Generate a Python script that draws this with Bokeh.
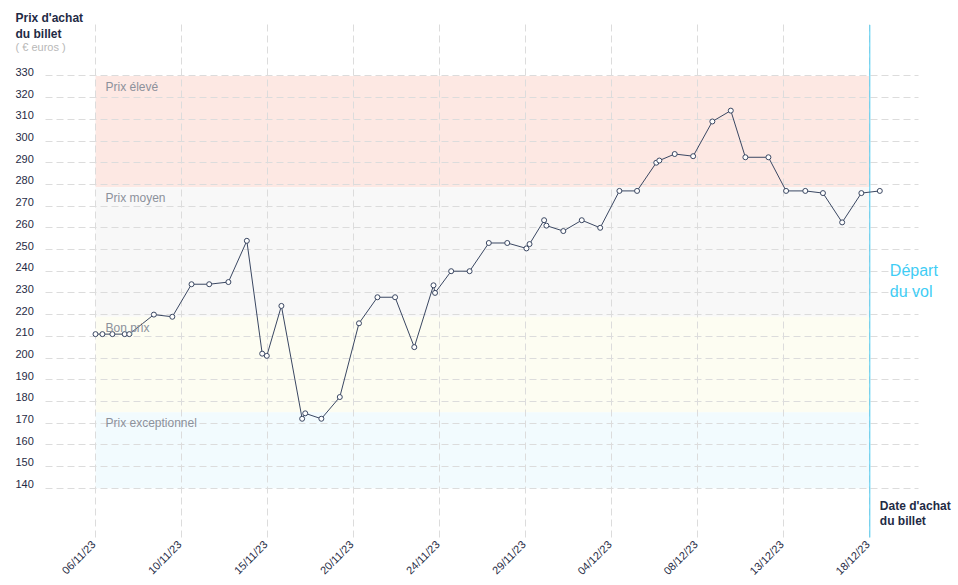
import pandas as pd
from math import pi
from bokeh.plotting import figure
from bokeh.models import Range1d, FixedTicker, Label, LabelSet, ColumnDataSource
from bokeh.core.properties import value
from bokeh.embed import file_html
from bokeh.resources import INLINE

# ---------------- data ----------------
DATES = [
    "2023-11-06 00:00", "2023-11-06 09:00", "2023-11-06 22:00", "2023-11-07 14:00",
    "2023-11-07 20:00", "2023-11-09 04:00", "2023-11-10 04:00", "2023-11-11 05:00",
    "2023-11-12 04:00", "2023-11-13 05:00", "2023-11-14 05:00", "2023-11-15 01:00",
    "2023-11-15 07:00", "2023-11-16 02:00", "2023-11-17 05:00", "2023-11-17 09:00",
    "2023-11-18 06:00", "2023-11-19 06:00", "2023-11-20 07:00", "2023-11-21 07:00",
    "2023-11-22 06:00", "2023-11-23 07:00", "2023-11-24 08:00", "2023-11-24 10:00",
    "2023-11-25 07:00", "2023-11-26 07:00", "2023-11-27 08:00", "2023-11-28 08:00",
    "2023-11-29 09:00", "2023-11-29 13:00", "2023-11-30 08:00", "2023-11-30 11:00",
    "2023-12-01 09:00", "2023-12-02 09:00", "2023-12-03 09:00", "2023-12-04 10:00",
    "2023-12-05 09:00", "2023-12-06 10:00", "2023-12-06 14:00", "2023-12-07 10:00",
    "2023-12-08 10:00", "2023-12-09 11:00", "2023-12-10 11:00", "2023-12-11 06:00",
    "2023-12-12 12:00", "2023-12-13 11:00", "2023-12-14 12:00", "2023-12-15 11:00",
    "2023-12-16 12:00", "2023-12-17 13:00", "2023-12-18 13:00",
]
PRICES = [
    211, 211, 211, 211, 211, 220, 219, 234, 234, 235, 254, 202, 201, 224, 172, 174.5,
    172, 182, 216, 228, 228, 205, 233.5, 230, 240, 240, 253, 253, 250.5, 252.5, 263.5,
    261, 258.5, 263.5, 260, 277, 277, 290, 291, 294, 293, 309, 314, 292.5, 292.5, 277,
    277, 276, 262.5, 276, 277,
]
TICK_LABELS = ["06/11/23", "10/11/23", "15/11/23", "20/11/23", "24/11/23",
               "29/11/23", "04/12/23", "08/12/23", "13/12/23", "18/12/23"]
Y_TICKS = [140, 150, 160, 170, 180, 190, 200, 210, 220, 230, 240, 250, 260, 270,
           280, 290, 300, 310, 320, 330]
BAND_NAMES = ["Prix élevé", "Prix moyen", "Bon prix", "Prix exceptionnel"]
BAND_LOW = [278.7, 219, 175, 140]
BAND_HIGH = [330, 278.7, 219, 175]
BAND_COLORS = ["#fde8e3", "#f8f8f8", "#fdfdf2", "#f2fbfe"]
START = "2023-11-06 00:00"
DEPART = "2023-12-18 00:00"

# ---------------- layout constants ----------------
def ms(ts):
    return pd.Timestamp(ts).value // 10**6

DAY = 86400000
t0, t1 = ms(START), ms(DEPART)
step = (t1 - t0) // (len(TICK_LABELS) - 1)
x_ticks = [t0 + k * step for k in range(len(TICK_LABELS))]

X_LO, X_HI = t0 - 2.712 * DAY, t0 + 44.64 * DAY      # plot area (grid extent)
Y_LO, Y_HI = 117.3, 355.5

NAVY = "#1f2b45"
LINE = "#3a4762"
FONT = "Liberation Sans"

p = figure(width=958, height=585, output_backend="svg", toolbar_location=None,
           x_axis_type="datetime",
           x_range=Range1d(t0 - 5.153 * DAY, t0 + 46.81 * DAY),
           y_range=Range1d(95.16, 364.75),
           min_border=0)
p.outline_line_color = None
p.background_fill_color = "white"
p.border_fill_color = "white"
p.xaxis.visible = False
p.yaxis.visible = False

# bands (under the grid)
band_src = ColumnDataSource(dict(left=[t0] * 4, right=[t1] * 4, bottom=BAND_LOW,
                                 top=BAND_HIGH, color=BAND_COLORS, name=BAND_NAMES))
p.quad(left="left", right="right", bottom="bottom", top="top", fill_color="color",
       line_color=None, source=band_src, level="image")

# grids
p.xgrid.ticker = FixedTicker(ticks=x_ticks)
p.xgrid.bounds = (X_LO, X_HI)
p.xgrid.cross_bounds = (Y_LO, Y_HI)
p.ygrid.ticker = FixedTicker(ticks=Y_TICKS)
p.ygrid.bounds = (Y_LO, Y_HI)
p.ygrid.cross_bounds = (X_LO, X_HI)
for g in (p.xgrid, p.ygrid):
    g.grid_line_color = "#dcdcdc"
    g.grid_line_dash = "7 4"
    g.grid_line_width = 1

# x tick labels (rotated)
xlab_src = ColumnDataSource(dict(x=x_ticks, text=TICK_LABELS))
p.add_layout(LabelSet(x="x", y=Y_LO, text="text", source=xlab_src, angle=pi / 4,
                      x_offset=-2, y_offset=-5, text_font=value(FONT),
                      text_font_size="11px", text_color=NAVY,
                      text_baseline="middle", text_align="right"))

# y tick labels
ylab_src = ColumnDataSource(dict(y=Y_TICKS, text=[str(v) for v in Y_TICKS]))
p.add_layout(LabelSet(x=15, x_units="screen", y="y", text="text", source=ylab_src,
                      y_offset=4, text_font=value(FONT), text_font_size="11px",
                      text_color=NAVY, text_baseline="middle", text_align="left"))

# band labels
p.add_layout(LabelSet(x="left", y="top", text="name", source=band_src,
                      x_offset=10, y_offset=-11, text_font=value(FONT),
                      text_font_size="12px", text_color="#8c919b",
                      text_baseline="middle", text_align="left"))

# departure line
p.segment(x0=[t1], y0=[Y_LO], x1=[t1], y1=[Y_HI - 2], line_color="#4ccbf2", line_width=1)

# price line
src = ColumnDataSource(dict(x=pd.to_datetime(DATES), y=PRICES))
p.line("x", "y", source=src, line_color=LINE, line_width=1)
p.scatter("x", "y", source=src, marker="circle", size=5, fill_color="white",
          line_color=LINE, line_width=1)

# texts
def lab(x, y, text, size, color, bold=False, x_units="data", x_offset=0):
    p.add_layout(Label(x=x, y=y, x_units=x_units, x_offset=x_offset, text=text,
                       text_font=FONT, text_font_size=size, text_color=color,
                       text_font_style="bold" if bold else "normal",
                       text_baseline="middle", text_align="left"))

lab(15, 356.5, "Prix d'achat", "12px", NAVY, True, "screen")
lab(15, 349.1, "du billet", "12px", NAVY, True, "screen")
lab(15, 343.1, "( € euros )", "11px", "#b8b8b8", False, "screen")
lab(t1, 131.6, "Date d'achat", "12px", NAVY, True, "data", 10)
lab(t1, 124.7, "du billet", "12px", NAVY, True, "data", 10)
lab(t1, 240.3, "Départ", "16px", "#3fcdf5", False, "data", 20)
lab(t1, 230.6, "du vol", "16px", "#3fcdf5", False, "data", 20)

open("out.html", "w").write(file_html(p, INLINE))
